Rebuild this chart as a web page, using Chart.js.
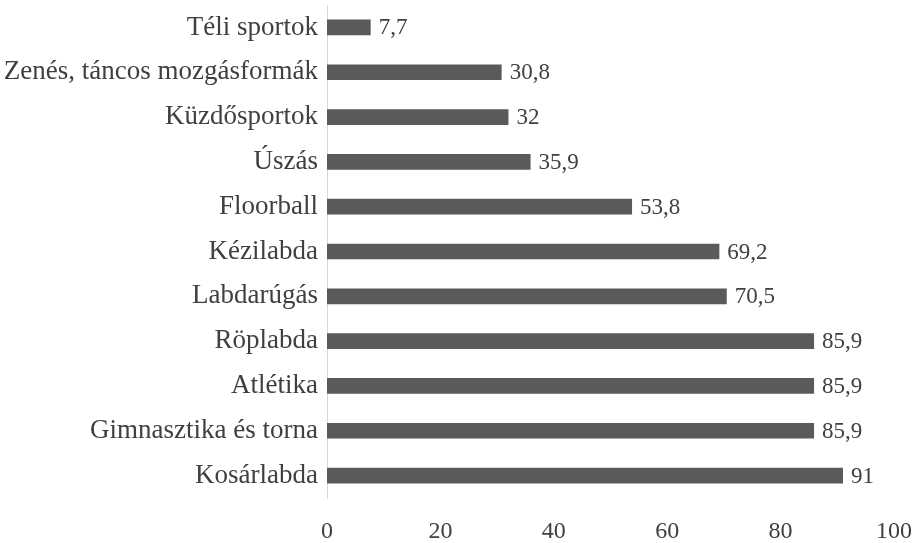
<!DOCTYPE html>
<html>
<head>
<meta charset="utf-8">
<script src="https://cdn.jsdelivr.net/npm/chart.js@4"></script>
<style>
  html, body { margin: 0; padding: 0; background: #fff; }
  #wrap { width: 918px; height: 543px; }
</style>
</head>
<body>
<div id="wrap"><canvas id="sportChart" width="918" height="543"></canvas></div>
<script>
/************** DATA **************/
const categories = [
  "Téli sportok",
  "Zenés, táncos mozgásformák",
  "Küzdősportok",
  "Úszás",
  "Floorball",
  "Kézilabda",
  "Labdarúgás",
  "Röplabda",
  "Atlétika",
  "Gimnasztika és torna",
  "Kosárlabda"
];
const values = [7.7, 30.8, 32, 35.9, 53.8, 69.2, 70.5, 85.9, 85.9, 85.9, 91];
const xTicks = [0, 20, 40, 60, 80, 100];

/************** STYLE **************/
const FONT = "'Liberation Serif', 'DejaVu Serif', serif";
const TEXT = "#404040";
const BAR = "#5a5a5a";

// value labels after bar ends (hu: decimal comma)
const valueLabels = {
  id: "valueLabels",
  afterDatasetsDraw(chart) {
    const ctx = chart.ctx;
    const meta = chart.getDatasetMeta(0);
    ctx.save();
    ctx.font = "23px " + FONT;
    ctx.fillStyle = TEXT;
    ctx.textAlign = "left";
    ctx.textBaseline = "middle";
    meta.data.forEach((bar, i) => {
      const txt = String(values[i]).replace(".", ",");
      ctx.fillText(txt, bar.x + 8, bar.y + 1);
    });
    ctx.restore();
  }
};

/************** CHART **************/
const ctx = document.getElementById("sportChart").getContext("2d");

new Chart(ctx, {
  type: "bar",
  data: {
    labels: categories,
    datasets: [{
      data: values,
      backgroundColor: BAR,
      barPercentage: 0.35,
      categoryPercentage: 1
    }]
  },
  options: {
    indexAxis: "y",
    responsive: false,
    animation: false,
    layout: { padding: { top: 5, right: 24, bottom: 0, left: 0 } },
    plugins: {
      legend: { display: false },
      tooltip: { enabled: false }
    },
    scales: {
      x: {
        min: 0,
        max: 100,
        afterBuildTicks: s => { s.ticks = xTicks.map(v => ({ value: v })); },
        afterFit: s => { s.height = 45; s.paddingLeft = 0; s.paddingRight = 0; },
        grid: { display: false, drawTicks: false },
        border: { display: false },
        ticks: {
          padding: 19,
          color: TEXT,
          font: { family: FONT, size: 24 }
        }
      },
      y: {
        afterFit: s => { s.width = 327; s.paddingTop = 0; s.paddingBottom = 0; },
        grid: { display: false, drawTicks: false },
        border: { display: true, color: "#d9d9d9", width: 1 },
        ticks: {
          padding: 9,
          color: TEXT,
          font: { family: FONT, size: 27 }
        }
      }
    }
  },
  plugins: [valueLabels]
});
</script>
</body>
</html>
